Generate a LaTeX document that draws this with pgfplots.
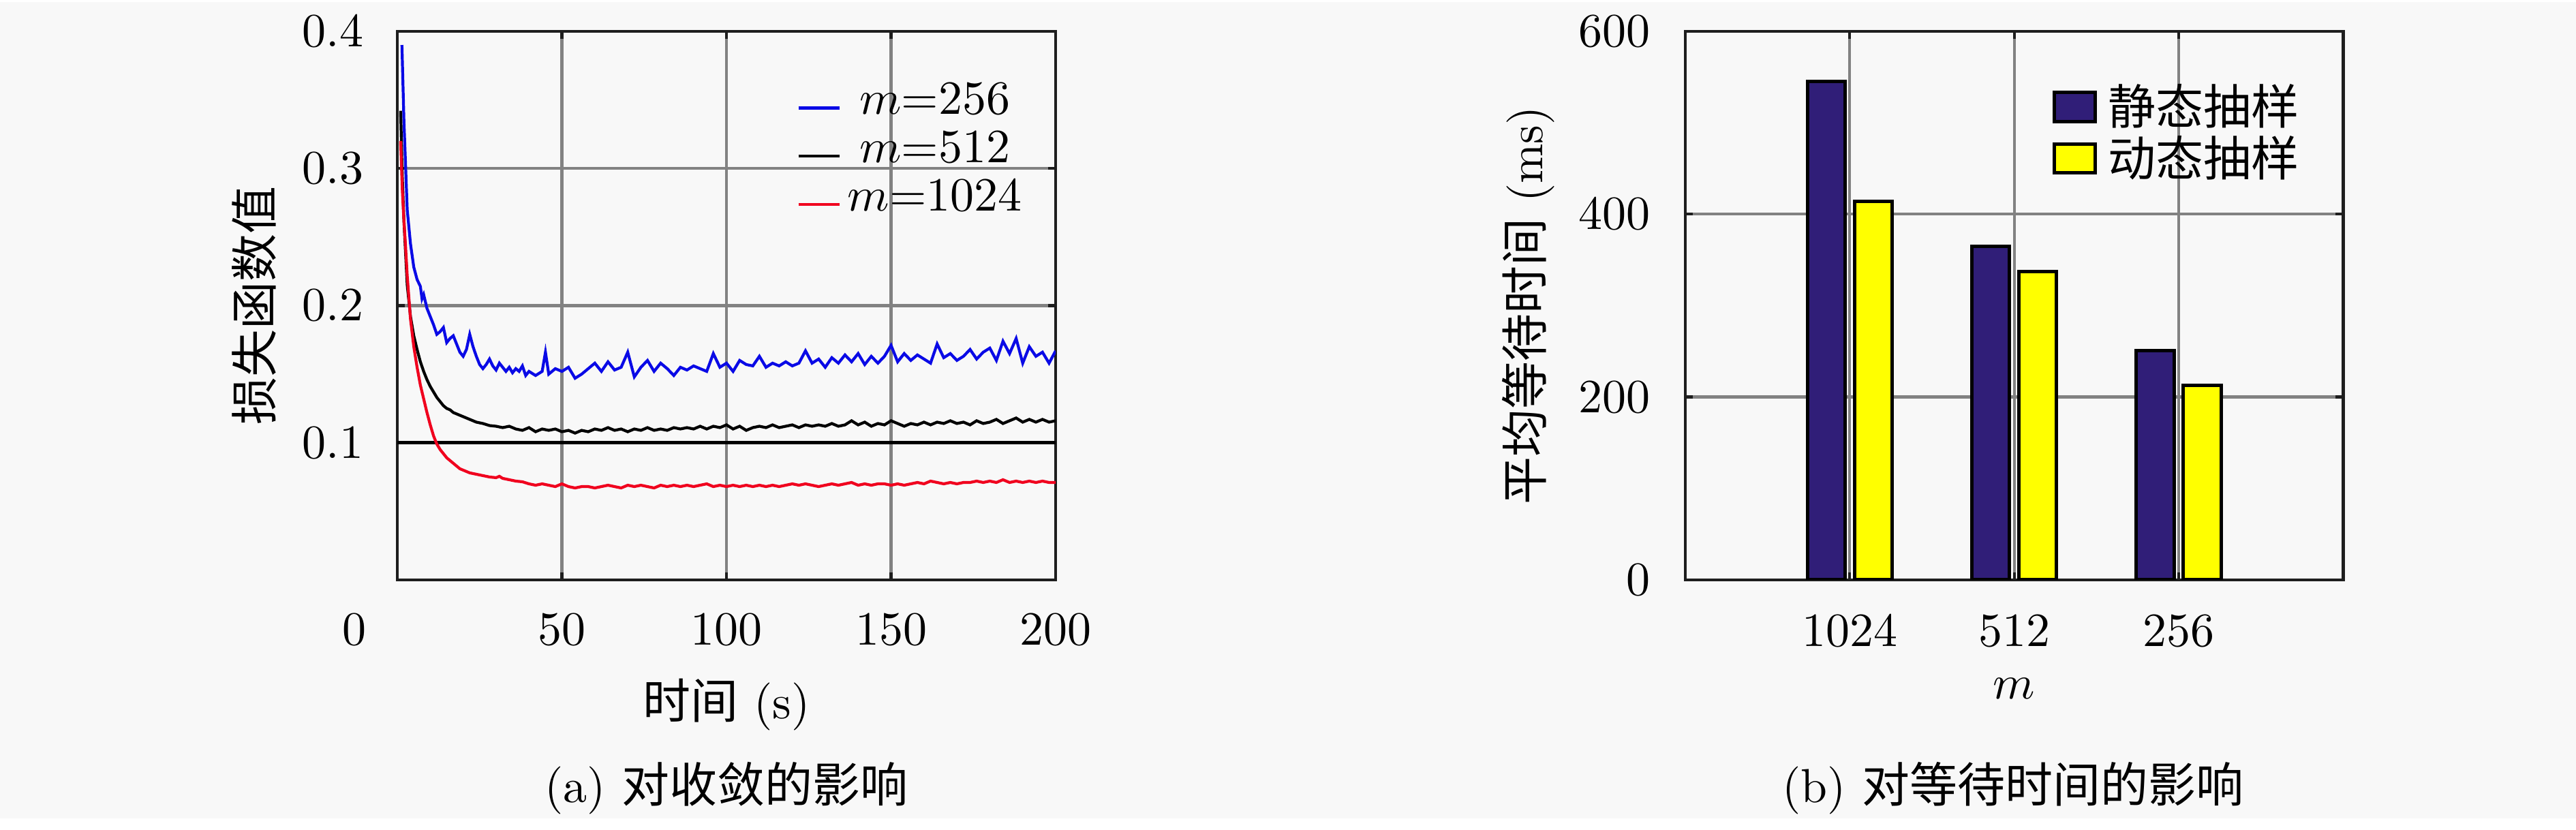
\documentclass[border=0pt]{standalone}
\usepackage{fontspec}
\usepackage{pgfplots}
\pgfplotsset{compat=1.18}
\newfontfamily\cjk{Noto Sans CJK SC}
\definecolor{bgc}{RGB}{248,248,248}
\definecolor{navy}{RGB}{48,30,120}
\definecolor{myyellow}{RGB}{255,255,0}
\definecolor{gridc}{RGB}{130,130,130}
\definecolor{axc}{RGB}{30,30,30}
\definecolor{myblue}{RGB}{10,10,230}
\definecolor{myred}{RGB}{240,0,30}
\begin{document}
\begin{tikzpicture}
\fill[bgc] (0,0) rectangle (540pt,171.14pt);
% ---------------- (a) ----------------
\begin{axis}[
  at={(83.29pt,50pt)}, anchor=south west, scale only axis,
  width=138pt, height=115pt,
  xmin=0, xmax=200, ymin=0, ymax=0.4,
  xtick={50,100,150,200},
  extra x ticks={0},
  extra x tick style={grid=none, major tick length=0pt, xticklabel style={xshift=-9pt}},
  ytick={0.1,0.2,0.3,0.4},
  yticklabel style={/pgf/number format/fixed,/pgf/number format/precision=1, xshift=-3.6pt},
  xticklabel style={yshift=-3.7pt},
  grid=major, major grid style={gridc, line width=0.6pt},
  axis line style={axc, line width=0.65pt},
  tick style={axc, line width=0.6pt}, major tick length=1.6pt,
  xlabel={{\cjk 时间} (s)},
  xlabel style={at={(axis description cs:0.5,-0.253)}, anchor=base},
  ylabel={\cjk 损失函数值},
  ylabel style={at={(axis description cs:-0.2174,0.5)}, anchor=center},
  legend image code/.code={\draw[#1] (0pt,1.3pt) -- (8.6pt,1.3pt);},
  legend style={draw=none, fill=none, at={(axis description cs:0.6056,0.9085)}, anchor=north west,
    inner sep=0pt, row sep=1.9pt, column sep=1.4pt, nodes={inner sep=0pt, anchor=base}},
  legend cell align=left,
]
\addplot[black, line width=0.65pt, forget plot] coordinates {(0,0.1) (200,0.1)};
\addplot[myblue, line width=0.6pt] coordinates {
(1.4,0.390) (2,0.335) (3,0.270) (4,0.245) (5,0.228) (6,0.219) (7,0.214) (7.5,0.205) (8,0.208)
(9,0.198) (10,0.192) (11,0.186) (12,0.179) (13,0.181) (14,0.184) (15,0.173) (16,0.176) (17,0.178)
(18,0.172) (19,0.166) (20,0.163) (21,0.168) (22,0.179) (23,0.170) (24,0.163) (25,0.157) (26,0.154)
(27,0.157) (28,0.161) (29,0.156) (30,0.153) (31,0.158) (32,0.155) (33,0.152) (34,0.155) (35,0.151)
(36,0.154) (37,0.152) (38,0.156) (39,0.149) (40,0.152) (42,0.149) (44,0.152) (45,0.166) (46,0.150)
(48,0.154) (50,0.152) (52,0.155) (54,0.147) (56,0.150) (58,0.154) (60,0.158) (62,0.152) (64,0.159)
(66,0.153) (68,0.155) (70,0.166) (72,0.148) (74,0.155) (76,0.160) (78,0.152) (80,0.158) (82,0.154)
(84,0.149) (86,0.155) (88,0.153) (90,0.156) (92,0.154) (94,0.152) (96,0.165) (98,0.155) (100,0.158)
(102,0.152) (104,0.160) (106,0.157) (108,0.156) (110,0.163) (112,0.155) (114,0.158) (116,0.156)
(118,0.159) (120,0.156) (122,0.158) (124,0.167) (126,0.158) (128,0.161) (130,0.155) (132,0.162)
(134,0.158) (136,0.164) (138,0.159) (140,0.165) (142,0.157) (144,0.163) (146,0.158) (148,0.163)
(150,0.171) (152,0.159) (154,0.165) (156,0.160) (158,0.164) (160,0.161) (162,0.158) (164,0.172)
(166,0.162) (168,0.165) (170,0.160) (172,0.163) (174,0.168) (176,0.161) (178,0.166) (180,0.169)
(182,0.160) (184,0.174) (186,0.165) (188,0.176) (190,0.158) (192,0.170) (194,0.163) (196,0.166)
(198,0.158) (200,0.167)};
\addlegendentry{$m$=256}
\addplot[black, line width=0.6pt] coordinates {
(1,0.342) (1.5,0.295) (2,0.262) (3,0.215) (4,0.192) (5,0.178) (6,0.168) (7,0.159) (8,0.152)
(9,0.146) (10,0.141) (11,0.137) (12,0.133) (13,0.130) (14,0.127) (15,0.125) (16,0.124) (17,0.122)
(18,0.121) (19,0.120) (20,0.119) (22,0.117) (24,0.115) (26,0.114) (28,0.1125) (30,0.112) (32,0.111)
(34,0.112) (36,0.110) (38,0.109) (40,0.111) (42,0.108) (44,0.110) (46,0.109) (48,0.110) (50,0.108)
(52,0.109) (54,0.107) (56,0.109) (58,0.108) (60,0.110) (62,0.109) (64,0.111) (66,0.109) (68,0.110)
(70,0.108) (72,0.110) (74,0.109) (76,0.111) (78,0.109) (80,0.110) (82,0.109) (84,0.111) (86,0.110)
(88,0.111) (90,0.110) (92,0.112) (94,0.110) (96,0.112) (98,0.111) (100,0.113) (102,0.110) (104,0.112)
(106,0.109) (108,0.111) (110,0.112) (112,0.111) (114,0.113) (116,0.111) (118,0.112) (120,0.113)
(122,0.111) (124,0.113) (126,0.112) (128,0.113) (130,0.112) (132,0.114) (134,0.112) (136,0.113)
(138,0.116) (140,0.113) (142,0.115) (144,0.112) (146,0.114) (148,0.113) (150,0.116) (152,0.114)
(154,0.112) (156,0.114) (158,0.113) (160,0.115) (162,0.113) (164,0.115) (166,0.114) (168,0.116)
(170,0.114) (172,0.115) (174,0.113) (176,0.116) (178,0.114) (180,0.115) (182,0.117) (184,0.114)
(186,0.116) (188,0.118) (190,0.115) (192,0.117) (194,0.115) (196,0.117) (198,0.115) (200,0.116)};
\addlegendentry{$m$=512}
\addplot[myred, line width=0.6pt] coordinates {
(1,0.320) (1.5,0.285) (2,0.262) (2.5,0.243) (3,0.222) (4,0.190) (5,0.170) (6,0.155) (7,0.142)
(8,0.132) (9,0.122) (10,0.113) (11,0.105) (12,0.099) (13,0.095) (14,0.092) (15,0.089) (16,0.087)
(17,0.085) (18,0.083) (19,0.081) (20,0.080) (22,0.078) (24,0.077) (26,0.076) (28,0.075) (30,0.0745)
(31,0.0755) (32,0.074) (34,0.073) (36,0.072) (38,0.0715) (40,0.070) (42,0.069) (44,0.070) (46,0.069)
(48,0.068) (50,0.070) (52,0.068) (54,0.067) (56,0.068) (58,0.068) (60,0.067) (62,0.068) (64,0.069)
(66,0.068) (68,0.067) (70,0.069) (72,0.068) (74,0.069) (76,0.068) (78,0.067) (80,0.069) (82,0.068)
(84,0.069) (86,0.068) (88,0.069) (90,0.068) (92,0.069) (94,0.070) (96,0.068) (98,0.069) (100,0.068)
(102,0.069) (104,0.068) (106,0.069) (108,0.068) (110,0.069) (112,0.068) (114,0.069) (116,0.068)
(118,0.069) (120,0.070) (122,0.069) (124,0.070) (126,0.069) (128,0.068) (130,0.069) (132,0.070)
(134,0.069) (136,0.070) (138,0.071) (140,0.069) (142,0.070) (144,0.069) (146,0.070) (148,0.070)
(150,0.069) (152,0.070) (154,0.069) (156,0.070) (158,0.071) (160,0.070) (162,0.072) (164,0.071)
(166,0.070) (168,0.071) (170,0.070) (172,0.071) (174,0.071) (176,0.072) (178,0.071) (180,0.072)
(182,0.071) (184,0.073) (186,0.071) (188,0.072) (190,0.071) (192,0.072) (194,0.071) (196,0.072)
(198,0.071) (200,0.071)};
\addlegendentry{$m$=1024}
\end{axis}
% ---------------- (b) ----------------
\begin{axis}[
  at={(353.29pt,50pt)}, anchor=south west, scale only axis,
  width=137.9pt, height=115pt,
  xmin=0, xmax=4, ymin=0, ymax=600,
  xtick={1,2,3}, xticklabels={1024,512,256},
  ytick={0,200,400,600},
  yticklabel style={xshift=-3.8pt},
  xticklabel style={yshift=-3.7pt},
  grid=major, major grid style={gridc, line width=0.6pt},
  axis line style={axc, line width=0.65pt},
  tick style={axc, line width=0.6pt}, major tick length=1.6pt,
  xlabel={$m$},
  xlabel style={at={(axis description cs:0.5,-0.2174)}, anchor=base},
  ylabel={{\cjk 平均等待时间} (ms)},
  ylabel style={at={(axis description cs:-0.2383,0.5)}, anchor=center},
  legend image code/.code={\draw[#1] (0pt,0.6pt) rectangle (8.6pt,6.7pt);},
  legend style={draw=none, fill=none, at={(axis description cs:0.5565,0.905)}, anchor=north west,
    inner sep=0pt, row sep=0.8pt, column sep=2.4pt, nodes={inner sep=0pt, anchor=base}},
  legend cell align=left,
]
\addplot[ybar, fill=navy, draw=black, line width=0.7pt, bar width=7.9pt, bar shift=-4.93pt]
  coordinates {(1,545) (2,365) (3,251)};
\addlegendentry{\cjk 静态抽样}
\addplot[ybar, fill=myyellow, draw=black, line width=0.7pt, bar width=7.9pt, bar shift=4.93pt]
  coordinates {(1,414) (2,337) (3,213)};
\addlegendentry{\cjk 动态抽样}
\end{axis}
\node[anchor=base] at (152.3pt,3.4pt) {(a) {\cjk 对收敛的影响}};
\node[anchor=base] at (422pt,3.4pt) {(b) {\cjk 对等待时间的影响}};
\end{tikzpicture}
\end{document}
